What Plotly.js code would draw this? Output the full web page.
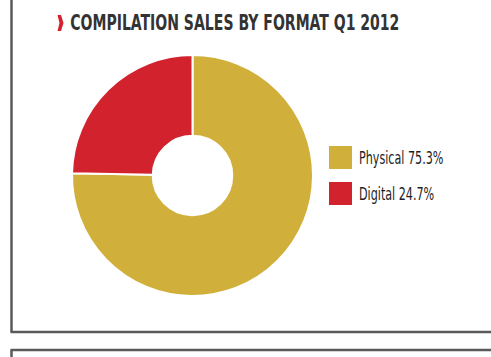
<!DOCTYPE html>
<html>
<head>
<meta charset="utf-8">
<script src="https://cdn.plot.ly/plotly-3.0.1.min.js"></script>
<style>
html,body{margin:0;padding:0;background:#fff;}
#chart{width:491px;height:357px;}
</style>
</head>
<body>
<div id="chart"></div>
<script>
const categories = ["Physical", "Digital"];
const shares = [75.3, 24.7];
const colors = ["#D0B03A", "#D2222E"];
const chartTitle = "COMPILATION SALES BY FORMAT Q1 2012";

const W = 491, H = 357;
const px = x => x / W;
const py = y => 1 - y / H;
const font = "'DejaVu Sans Condensed', 'DejaVu Sans', sans-serif";

const shapes = [
  {type:"line", xref:"paper", yref:"paper", x0:px(11.5), x1:px(11.5), y0:py(0), y1:py(332), line:{color:"#5a5a5a", width:2.5}},
  {type:"line", xref:"paper", yref:"paper", x0:px(10.5), x1:px(491), y0:py(332), y1:py(332), line:{color:"#5a5a5a", width:2.5}},
  {type:"line", xref:"paper", yref:"paper", x0:px(10.5), x1:px(491), y0:py(350), y1:py(350), line:{color:"#5a5a5a", width:2.5}},
  {type:"line", xref:"paper", yref:"paper", x0:px(11.5), x1:px(11.5), y0:py(350), y1:py(357), line:{color:"#5a5a5a", width:2.5}}
];
// title chevron ornament
const cx = [57.5, 61, 63.5, 61, 57.5, 59.5];
const cy = [15, 15, 23, 31, 31, 23];
shapes.push({type:"path", xref:"paper", yref:"paper",
  path: "M" + cx.map((x, i) => px(x) + "," + py(cy[i])).join(" L") + " Z",
  fillcolor:"#D2222E", line:{width:0}});

const annotations = [];
const scales = [];
categories.forEach((c, i) => {
  const top = 146 + i * 36;
  shapes.push({type:"rect", xref:"paper", yref:"paper", x0:px(329), x1:px(352), y0:py(top+23), y1:py(top),
    fillcolor: colors[i], line:{width:0}});
  annotations.push({xref:"paper", yref:"paper", x:px(357), y:py(top+12), xanchor:"left", yanchor:"middle",
    showarrow:false, text: c + " " + shares[i].toFixed(1) + "%", font:{family:font, size:17, color:"#1e1e1e"}});
  scales.push(0.73);
});
annotations.push({xref:"paper", yref:"paper", x:px(68), y:py(23), xanchor:"left", yanchor:"middle", showarrow:false,
  text:"<b>" + chartTitle + "</b>", font:{family:font, size:22, color:"#333333"}});
scales.push(0.71);

const data = [{
  type:"pie",
  labels: categories,
  values: shares,
  sort:false,
  direction:"clockwise",
  rotation:0,
  hole:0.33,
  textinfo:"none",
  hoverinfo:"label+percent",
  marker:{colors: colors, line:{color:"#fff", width:2}},
  domain:{x:[px(72), px(313)], y:[py(296), py(55)]},
  showlegend:false
}];

const layout = {
  width:W, height:H,
  margin:{l:0, r:0, t:0, b:0},
  paper_bgcolor:"#fff",
  showlegend:false,
  shapes: shapes,
  annotations: annotations
};
Plotly.newPlot("chart", data, layout, {staticPlot:true, displayModeBar:false}).then(gd => {
  const texts = gd.querySelectorAll(".annotation .annotation-text");
  texts.forEach((t, i) => {
    const s = scales[i] || 1;
    t.style.transformBox = "fill-box";
    t.style.transformOrigin = "left center";
    t.style.transform = "scaleX(" + s + ")";
  });
});
</script>
</body>
</html>
